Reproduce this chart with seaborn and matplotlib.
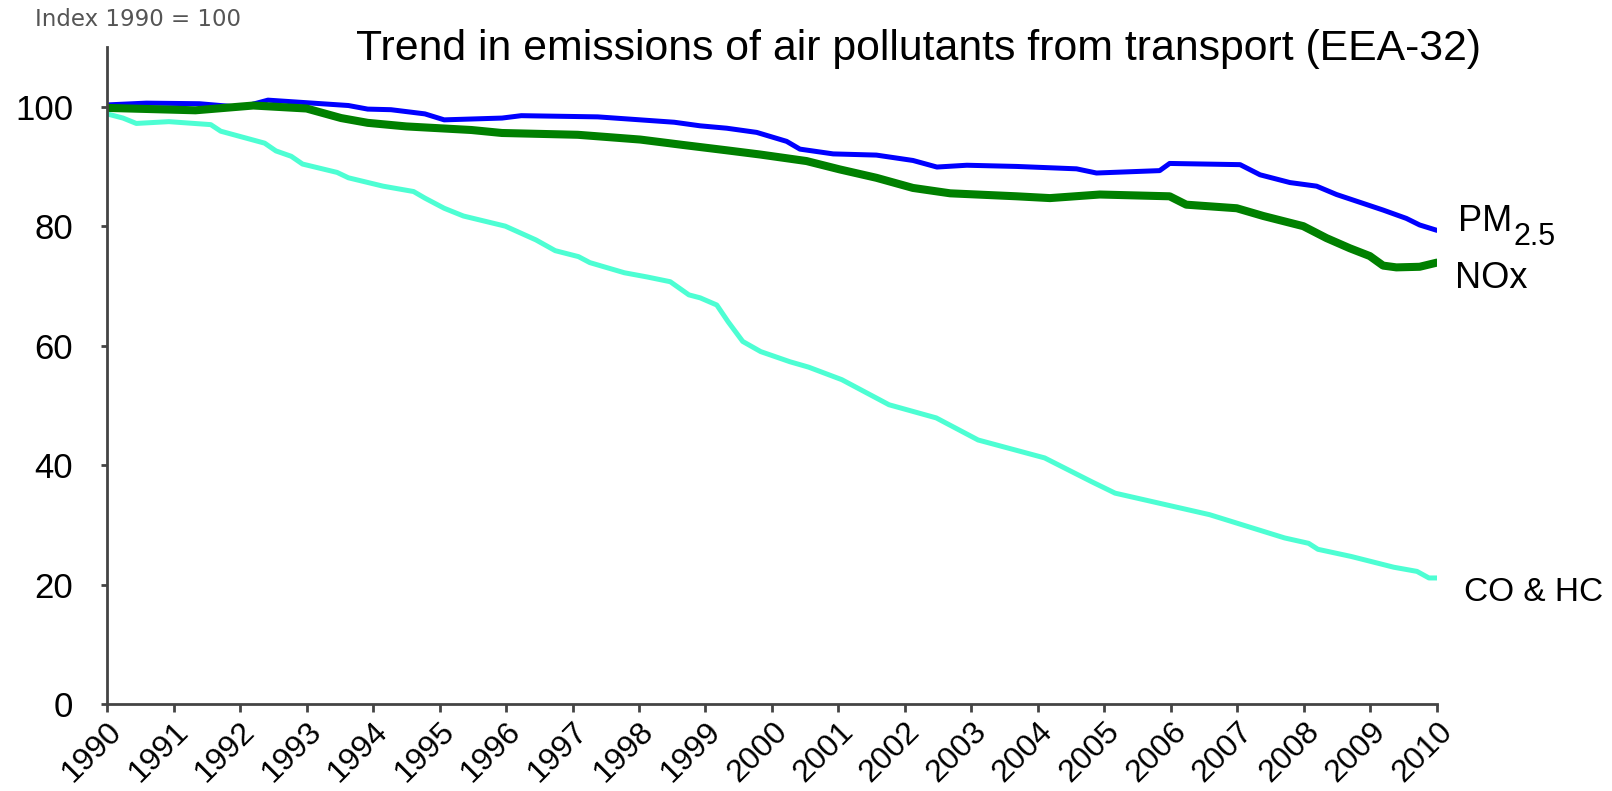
import numpy as np
import pandas as pd
import seaborn as sns
import matplotlib.pyplot as plt

# values (index 1990 = 100)
pm_years = [1990, 1990.59, 1991.39, 1992.02, 1992.42, 1993.63, 1993.92, 1994.27, 1994.78, 1995.07,
            1995.94, 1996.23, 1997.38, 1998.53, 1998.92, 1999.32, 1999.77, 2000.22, 2000.42, 2000.92,
            2001.57, 2002.12, 2002.48, 2002.93, 2003.68, 2004.58, 2004.88, 2005.83, 2005.98, 2007.04,
            2007.34, 2007.79, 2008.19, 2008.49, 2009.19, 2009.54, 2009.74, 2010]
pm_values = [100.3, 100.6, 100.5, 99.9, 101.1, 100.2, 99.6, 99.5, 98.8, 97.8,
             98.1, 98.5, 98.3, 97.4, 96.8, 96.4, 95.7, 94.2, 92.9, 92.1,
             91.9, 91.0, 89.9, 90.2, 90.0, 89.6, 88.9, 89.3, 90.5, 90.3,
             88.6, 87.3, 86.7, 85.3, 82.7, 81.3, 80.2, 79.3]

nox_years = [1990, 1991.33, 1992.2, 1993.0, 1993.52, 1993.92, 1994.5, 1995.48, 1995.94, 1997.08,
             1998.02, 1998.66, 1999.32, 1999.82, 2000.52, 2001.02, 2001.57, 2002.12, 2002.68, 2003.68,
             2004.18, 2004.93, 2005.98, 2006.23, 2006.99, 2007.39, 2007.99, 2008.34, 2008.69, 2008.99,
             2009.19, 2009.39, 2009.74, 2010]
nox_values = [99.8, 99.4, 100.2, 99.7, 98.1, 97.3, 96.7, 96.1, 95.6, 95.3,
              94.5, 93.6, 92.7, 92.0, 90.9, 89.5, 88.1, 86.4, 85.5, 85.0,
              84.7, 85.3, 85.0, 83.6, 83.0, 81.7, 80.0, 78.0, 76.3, 75.0,
              73.4, 73.1, 73.2, 73.9]

co_years = [1990, 1990.24, 1990.44, 1990.93, 1991.56, 1991.71, 1992.37, 1992.54, 1992.77, 1992.94,
            1993.46, 1993.63, 1994.15, 1994.61, 1994.78, 1995.07, 1995.36, 1995.99, 1996.45, 1996.74,
            1997.09, 1997.26, 1997.78, 1998.12, 1998.47, 1998.75, 1998.92, 1999.17, 1999.34, 1999.56,
            1999.83, 2000.27, 2000.55, 2001.05, 2001.76, 2002.47, 2003.1, 2004.1, 2004.81, 2005.16,
            2006.58, 2007.71, 2008.07, 2008.21, 2008.71, 2009.35, 2009.7, 2009.88, 2010]
co_values = [98.8, 98.1, 97.2, 97.5, 97.0, 95.9, 93.9, 92.6, 91.7, 90.4,
             89.0, 88.1, 86.7, 85.8, 84.7, 83.0, 81.7, 80.0, 77.7, 75.9,
             74.9, 73.9, 72.2, 71.5, 70.7, 68.5, 68.0, 66.8, 64.0, 60.7,
             59.0, 57.3, 56.4, 54.3, 50.1, 47.9, 44.2, 41.2, 37.2, 35.3,
             31.7, 27.8, 26.9, 25.9, 24.7, 22.9, 22.2, 21.1, 21.1]

year_ticks = list(range(1990, 2011))
y_ticks = [0, 20, 40, 60, 80, 100]

sns.set_style('ticks')
plt.rcParams['font.family'] = ['Liberation Sans', 'DejaVu Sans']
plt.rcParams['text.color'] = 'black'
plt.rcParams['xtick.labelcolor'] = 'black'
plt.rcParams['ytick.labelcolor'] = 'black'

fig = plt.figure(figsize=(16.12, 7.91), dpi=100)
ax = fig.add_axes([0.0664, 0.110, 0.825, 0.8306])

sns.lineplot(x=pm_years, y=pm_values, ax=ax, color='#0000ff', linewidth=3.6)
sns.lineplot(x=nox_years, y=nox_values, ax=ax, color='#008000', linewidth=5.8)
sns.lineplot(x=co_years, y=co_values, ax=ax, color='#4dfed3', linewidth=3.6)

ax.set_xlim(1990, 2010)
ax.set_ylim(0, 110)
ax.set_xticks(year_ticks)
ax.set_xticklabels([str(y) for y in year_ticks], rotation=45, ha='right',
                   rotation_mode='anchor', fontsize=23)
ax.set_yticks(y_ticks)
ax.set_yticklabels([str(v) for v in y_ticks], fontsize=25)
ax.tick_params(axis='y', length=4.3, width=2, pad=20, color='#444444')
ax.tick_params(axis='x', length=6, width=2, pad=3, color='#444444')
sns.despine(ax=ax)
for side in ['left', 'bottom']:
    ax.spines[side].set_linewidth(2)
    ax.spines[side].set_color('#444444')

# series labels at the right end of each line
pm_txt = ax.text(pm_years[-1] + 0.32, 79.2, 'PM', fontsize=26, va='baseline', ha='left')
ax.annotate('2.5', xy=(1, 0), xycoords=pm_txt, xytext=(1, -4), textcoords='offset points',
            fontsize=22, va='baseline', ha='left')
ax.text(nox_years[-1] + 0.27, 69.6, 'NOx', fontsize=26, va='baseline', ha='left')
ax.text(co_years[-1] + 0.4, 17.3, 'CO & HC', fontsize=24, va='baseline', ha='left')

fig.text(0.5695, 0.924, 'Trend in emissions of air pollutants from transport (EEA-32)',
         fontsize=30.8, ha='center', va='baseline')
fig.text(0.0217, 0.967, 'Index 1990 = 100', fontsize=16.5, color='#555555',
         family='DejaVu Sans', ha='left', va='baseline')

fig.savefig('out.png', dpi=100)
